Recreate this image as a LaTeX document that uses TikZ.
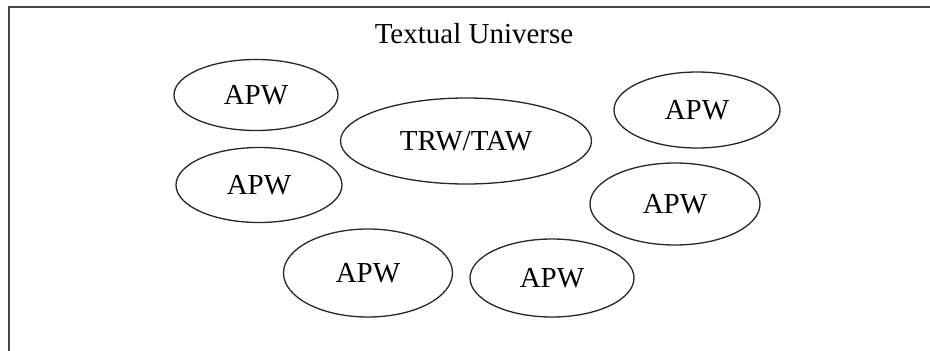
\documentclass[tikz,border=0pt]{standalone}
\usepackage{fontspec}
\setmainfont{Liberation Serif}
\usetikzlibrary{shapes.geometric}
\begin{document}
\begin{tikzpicture}[x=1pt,y=-1pt,
  world/.style={draw=black!85, line width=1.3pt, ellipse, inner sep=0pt,
    font=\fontsize{29}{32}\selectfont},
  frameline/.style={draw=black!72, line width=1.8pt},
  title/.style={font=\fontsize{29}{32}\selectfont, inner sep=0pt}]
\useasboundingbox (0,0) rectangle (930,351);
\coordinate (fb) at (9,352);
\coordinate (fc) at (9,7);
\coordinate (fr) at (931,7);
\draw[frameline] (fb) -- (fc) -- (fr);
\node[title, anchor=base] (t) at (474,43) {Textual Universe};
\node[world, minimum width=164pt, minimum height=71pt] (a1) at (256,95) {APW};
\node[world, minimum width=251pt, minimum height=86pt] (c) at (466,141) {TRW/TAW};
\node[world, minimum width=166pt, minimum height=76pt] (a2) at (697,110) {APW};
\node[world, minimum width=166pt, minimum height=75pt] (a3) at (259,185) {APW};
\node[world, minimum width=170pt, minimum height=82pt] (a4) at (675,204) {APW};
\node[world, minimum width=169pt, minimum height=88pt] (a5) at (368,273) {APW};
\node[world, minimum width=164pt, minimum height=78pt] (a6) at (552,278) {APW};
\end{tikzpicture}
\end{document}
